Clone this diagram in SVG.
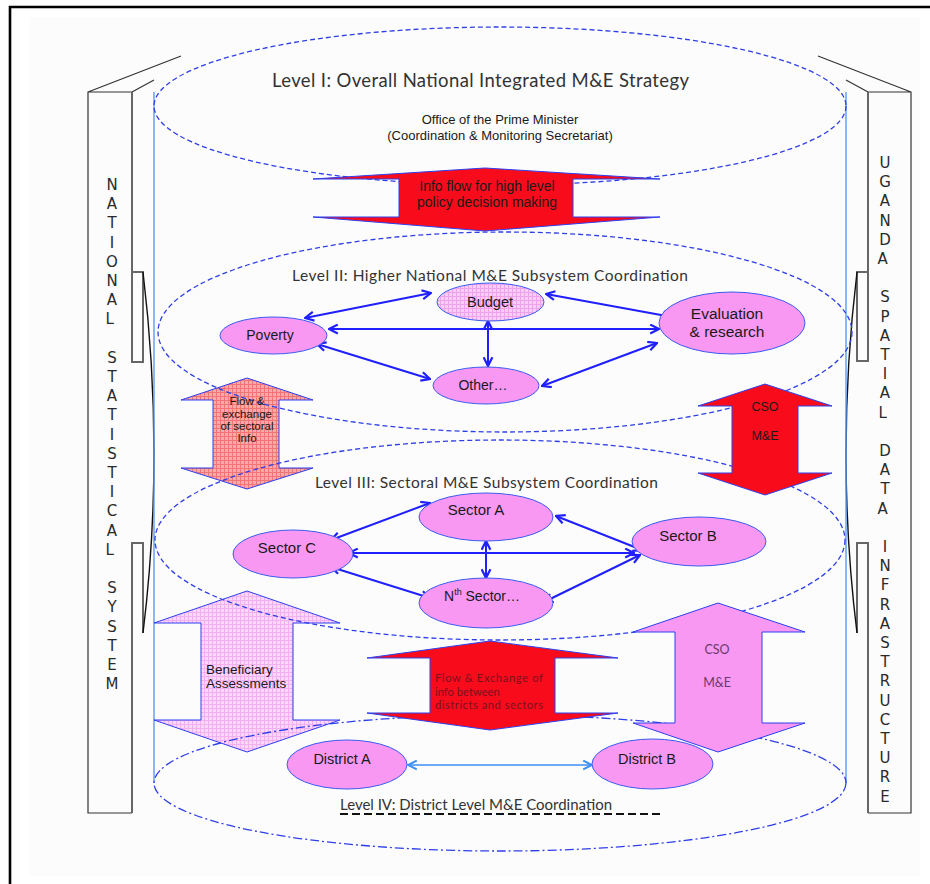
<svg xmlns="http://www.w3.org/2000/svg" width="930" height="884" viewBox="0 0 930 884">
  <defs>
    <style>
      .lvl { fill: none; stroke: #2f3fe8; stroke-width: 1.3; stroke-dasharray: 5 3; }
      .lvl4 { fill: none; stroke: #2f3fe8; stroke-width: 1.3; stroke-dasharray: 9 3 2 3; }
      .pillar { fill: none; stroke: #333; stroke-width: 1.2; }
      .pillar-side { fill: none; stroke: #666; stroke-width: 2; }
      .curve { fill: none; stroke: #111; stroke-width: 1.4; }
      .axis { stroke: #5b9bf5; stroke-width: 1.4; }
      .node { fill: #f898f2; stroke: #3a5cf0; stroke-width: 1; }
      .shape { stroke: #2d3ff0; stroke-width: 1; }
      .link { fill: none; stroke: #1f1fff; stroke-width: 2; marker-start: url(#ah); marker-end: url(#ah); }
      .link-lt { fill: none; stroke: #3b8ff5; stroke-width: 1.6; marker-start: url(#ahl); marker-end: url(#ahl); }
      .title { font-family: Lato, "Open Sans", sans-serif; fill: #333; text-anchor: middle; }
      .lbl { font-family: "Liberation Sans", Arial, sans-serif; fill: #1a1a1a; text-anchor: middle; }
      .side { font-family: "DejaVu Sans", sans-serif; font-size: 15px; fill: #2a2a2a; text-anchor: middle; }
    </style>
    <marker id="ah" viewBox="0 0 10 10" refX="9" refY="5" markerWidth="11" markerHeight="11" markerUnits="userSpaceOnUse" orient="auto-start-reverse">
      <path d="M1,1 L9,5 L1,9" fill="none" stroke="#1f1fff" stroke-width="2"/>
    </marker>
    <marker id="ahl" viewBox="0 0 10 10" refX="9" refY="5" markerWidth="11" markerHeight="11" markerUnits="userSpaceOnUse" orient="auto-start-reverse">
      <path d="M1,1 L9,5 L1,9" fill="none" stroke="#3b8ff5" stroke-width="1.8"/>
    </marker>
    <pattern id="chkPink" width="4" height="4" patternUnits="userSpaceOnUse">
      <rect width="4" height="4" fill="#fbd8f9"/>
      <path d="M0,0.5H4M0.5,0V4" stroke="#f3b0f0" stroke-width="1"/>
    </pattern>
    <pattern id="chkBudget" width="4" height="4" patternUnits="userSpaceOnUse">
      <rect width="4" height="4" fill="#f8cdf6"/>
      <path d="M0,0.5H4M0.5,0V4" stroke="#eea2eb" stroke-width="1"/>
    </pattern>
    <pattern id="chkSalmon" width="4" height="4" patternUnits="userSpaceOnUse">
      <rect width="4" height="4" fill="#f8aaaa"/>
      <path d="M0,0.5H4M0.5,0V4" stroke="#ee7676" stroke-width="1"/>
    </pattern>
  </defs>

  <!-- page frame -->
  <rect x="0" y="0" width="930" height="884" fill="#ffffff"/>
  <rect x="30" y="17" width="890" height="859" fill="#fcfcfc"/>
  <path d="M10,884 V7 H930" fill="none" stroke="#000" stroke-width="2.6"/>

  <!-- left pillar: National Statistical System -->
  <g id="pillar-left">
    <path class="pillar" d="M132,92 L88,92 L88,813 L132,813 M88,92 L181,56 M132,92 L154,80"/>
    <path class="pillar-side" d="M132,92 V362 H143 V272 H132 M132,813 V543 H143 V633"/>
    <path class="curve" d="M143,272 Q165,455 143,633"/>
    <text class="side">
      <tspan x="112" y="190">N</tspan><tspan x="112" dy="19.2">A</tspan><tspan x="112" dy="19.2">T</tspan><tspan x="112" dy="19.2">I</tspan><tspan x="112" dy="19.2">O</tspan><tspan x="112" dy="19.2">N</tspan><tspan x="112" dy="19.2">A</tspan><tspan x="112" dy="19.2">L</tspan>
      <tspan x="112" dy="38.4">S</tspan><tspan x="112" dy="19.2">T</tspan><tspan x="112" dy="19.2">A</tspan><tspan x="112" dy="19.2">T</tspan><tspan x="112" dy="19.2">I</tspan><tspan x="112" dy="19.2">S</tspan><tspan x="112" dy="19.2">T</tspan><tspan x="112" dy="19.2">I</tspan><tspan x="112" dy="19.2">C</tspan><tspan x="112" dy="19.2">A</tspan><tspan x="112" dy="19.2">L</tspan>
      <tspan x="112" dy="38.4">S</tspan><tspan x="112" dy="19.2">Y</tspan><tspan x="112" dy="19.2">S</tspan><tspan x="112" dy="19.2">T</tspan><tspan x="112" dy="19.2">E</tspan><tspan x="112" dy="19.2">M</tspan>
    </text>
  </g>

  <!-- right pillar: Uganda Spatial Data Infrastructure -->
  <g id="pillar-right">
    <path class="pillar" d="M868,92 L911,92 L911,813 L868,813 M911,92 L818,56 M868,92 L846,80"/>
    <path class="pillar-side" d="M868,92 V361 H857 V272 H868 M868,813 V543 H857 V633"/>
    <path class="curve" d="M857,272 Q835,455 857,633"/>
    <text class="side">
      <tspan x="885" y="168">U</tspan><tspan x="885" dy="19.2">G</tspan><tspan x="885" dy="19.2">A</tspan><tspan x="885" dy="19.2">N</tspan><tspan x="885" dy="19.2">D</tspan><tspan x="885" dy="19.2">A</tspan>
      <tspan x="885" dy="38.4">S</tspan><tspan x="885" dy="19.2">P</tspan><tspan x="885" dy="19.2">A</tspan><tspan x="885" dy="19.2">T</tspan><tspan x="885" dy="19.2">I</tspan><tspan x="885" dy="19.2">A</tspan><tspan x="885" dy="19.2">L</tspan>
      <tspan x="885" dy="38.4">D</tspan><tspan x="885" dy="19.2">A</tspan><tspan x="885" dy="19.2">T</tspan><tspan x="885" dy="19.2">A</tspan>
      <tspan x="885" dy="38.4">I</tspan><tspan x="885" dy="19.2">N</tspan><tspan x="885" dy="19.2">F</tspan><tspan x="885" dy="19.2">R</tspan><tspan x="885" dy="19.2">A</tspan><tspan x="885" dy="19.2">S</tspan><tspan x="885" dy="19.2">T</tspan><tspan x="885" dy="19.2">R</tspan><tspan x="885" dy="19.2">U</tspan><tspan x="885" dy="19.2">C</tspan><tspan x="885" dy="19.2">T</tspan><tspan x="885" dy="19.2">U</tspan><tspan x="885" dy="19.2">R</tspan><tspan x="885" dy="19.2">E</tspan>
    </text>
  </g>

  <!-- cylinder walls -->
  <g id="cylinder-walls">
    <line class="axis" x1="154" y1="92" x2="154" y2="783"/>
    <line class="axis" x1="846" y1="92" x2="846" y2="783"/>
  </g>

  <!-- hatched flow arrows (ellipse outlines show through these) -->
  <g id="flow-sectoral-info">
    <path class="shape" fill="url(#chkSalmon)" d="M247,378 L313,400 L279,400 L279,468 L313,468 L247,489 L181,468 L213,468 L213,400 L181,400 Z"/>
  </g>
  <g id="beneficiary-assessments">
    <path class="shape" fill="url(#chkPink)" d="M247,591 L340,623 L293,623 L293,720 L340,720 L247,752 L154,720 L201,720 L201,623 L154,623 Z"/>
  </g>

  <!-- level planes -->
  <g id="levels">
    <ellipse class="lvl" cx="500" cy="106" rx="346" ry="79" stroke-width="1.6" stroke-dasharray="4 4"/>
    <ellipse class="lvl" cx="505" cy="332" rx="347" ry="100"/>
    <ellipse class="lvl" cx="500" cy="540" rx="345" ry="100"/>
    <ellipse class="lvl4" cx="500" cy="783" rx="346" ry="68"/>
  </g>

  <!-- solid flow arrows -->
  <g id="flow-high-level">
    <path class="shape" fill="#f80c1c" d="M485,168 L660,179 L573,179 L573,217 L660,217 L485,231 L313,217 L399,217 L399,179 L313,179 Z"/>
  </g>
  <g id="cso-upper">
    <path class="shape" fill="#f80c1c" d="M765,384 L832,406 L798,406 L798,473 L832,473 L765,495 L698,473 L732,473 L732,406 L698,406 Z"/>
  </g>
  <g id="flow-districts-sectors">
    <path class="shape" fill="#f80c1c" d="M490,641 L618,658 L555,658 L555,713 L618,713 L490,730 L367,713 L430,713 L430,658 L367,658 Z"/>
  </g>
  <g id="cso-lower">
    <path class="shape" fill="#f898f2" d="M718,603 L805,632 L762,632 L762,723 L805,723 L718,752 L633,723 L675,723 L675,632 L633,632 Z"/>
  </g>

  <!-- connectors -->
  <g id="connectors">
    <line class="link" x1="305" y1="318" x2="431" y2="293"/>
    <line class="link" x1="317" y1="344" x2="430" y2="379"/>
    <line class="link" x1="329" y1="329" x2="659" y2="329"/>
    <line class="link" x1="488" y1="321" x2="488" y2="366"/>
    <line class="link" x1="546" y1="294" x2="672" y2="317"/>
    <line class="link" x1="542" y1="386" x2="657" y2="343"/>

    <line class="link" x1="331" y1="540" x2="430" y2="503"/>
    <line class="link" x1="331" y1="567" x2="430" y2="598"/>
    <line class="link" x1="349" y1="553" x2="634" y2="553"/>
    <line class="link" x1="486" y1="541" x2="486" y2="578"/>
    <line class="link" x1="556" y1="516" x2="642" y2="550"/>
    <line class="link" x1="544" y1="602" x2="640" y2="555"/>

    <line class="link-lt" x1="408" y1="765" x2="592" y2="765"/>
  </g>

  <!-- level II nodes -->
  <g id="budget">
    <ellipse cx="490.5" cy="302" rx="53.5" ry="19" fill="url(#chkBudget)" stroke="#3a5cf0" stroke-width="1"/>
    <text class="lbl" x="490" y="307" font-size="14.5">Budget</text>
  </g>
  <g id="poverty">
    <ellipse class="node" cx="273.5" cy="335.5" rx="53.5" ry="18.5"/>
    <text class="lbl" x="270" y="340" font-size="14">Poverty</text>
  </g>
  <g id="other">
    <ellipse class="node" cx="486" cy="385.5" rx="53" ry="18.5"/>
    <text class="lbl" x="483" y="390" font-size="14">Other…</text>
  </g>
  <g id="evaluation-research">
    <ellipse class="node" cx="732" cy="323" rx="73" ry="31"/>
    <text class="lbl" x="727" y="318.5" font-size="15.5">Evaluation</text>
    <text class="lbl" x="727" y="336.5" font-size="15.5">&amp; research</text>
  </g>

  <!-- level III nodes -->
  <g id="sector-a">
    <ellipse class="node" cx="486" cy="517" rx="67" ry="24"/>
    <text class="lbl" x="476" y="515" font-size="15">Sector A</text>
  </g>
  <g id="sector-c">
    <ellipse class="node" cx="293" cy="554" rx="60" ry="24"/>
    <text class="lbl" x="287" y="553" font-size="15">Sector C</text>
  </g>
  <g id="sector-b">
    <ellipse class="node" cx="699" cy="541.5" rx="67" ry="24.5"/>
    <text class="lbl" x="688" y="541" font-size="15">Sector B</text>
  </g>
  <g id="sector-n">
    <ellipse class="node" cx="486" cy="603" rx="67" ry="25"/>
    <text class="lbl" x="482" y="601" font-size="14">N<tspan font-size="9" dy="-6">th</tspan><tspan dy="6"> Sector…</tspan></text>
  </g>

  <!-- level IV nodes -->
  <g id="district-a">
    <ellipse class="node" cx="347" cy="764.5" rx="60" ry="24.5"/>
    <text class="lbl" x="342" y="764" font-size="14.5">District A</text>
  </g>
  <g id="district-b">
    <ellipse class="node" cx="652.5" cy="764" rx="60.5" ry="25"/>
    <text class="lbl" x="647" y="764" font-size="14.5">District B</text>
  </g>

  <!-- level headings and office -->
  <g id="level-1">
    <text class="title" x="480.5" y="87" font-size="18.5" textLength="417" lengthAdjust="spacing">Level I: Overall National Integrated M&amp;E Strategy</text>
    <text class="lbl" x="500" y="124" font-size="13">Office of the Prime Minister</text>
    <text class="lbl" x="500" y="140" font-size="13">(Coordination &amp; Monitoring Secretariat)</text>
  </g>
  <text class="title" x="490" y="281" font-size="15.5" textLength="396" lengthAdjust="spacing">Level II: Higher National M&amp;E Subsystem Coordination</text>
  <text class="title" x="486.5" y="488" font-size="15.5" textLength="343" lengthAdjust="spacing">Level III: Sectoral M&amp;E Subsystem Coordination</text>
  <g id="level-4">
    <text class="title" x="476" y="810" font-size="15" textLength="272" lengthAdjust="spacing">Level IV: District Level M&amp;E Coordination</text>
    <line x1="340" y1="814" x2="660" y2="814" stroke="#111" stroke-width="2" stroke-dasharray="8 4"/>
  </g>

  <!-- arrow captions -->
  <text class="lbl" font-size="14"><tspan x="487" y="191">Info flow for high level</tspan><tspan x="487" y="207">policy decision making</tspan></text>
  <text class="lbl" font-size="11.5" fill="#222"><tspan x="247" y="405">Flow &amp;</tspan><tspan x="247" y="417.5">exchange</tspan><tspan x="247" y="430">of sectoral</tspan><tspan x="247" y="442">Info</tspan></text>
  <text class="lbl" font-size="12.5"><tspan x="765" y="411">CSO</tspan><tspan x="765" y="440">M&amp;E</tspan></text>
  <text font-family="'Liberation Sans', Arial, sans-serif" font-size="13.5" fill="#1a1a1a"><tspan x="206" y="674">Beneficiary</tspan><tspan x="206" y="688">Assessments</tspan></text>
  <text font-family="Lato, 'Open Sans', sans-serif" font-size="11.2" fill="#7a1020"><tspan x="435" y="682" textLength="108" lengthAdjust="spacing">Flow &amp; Exchange of</tspan><tspan x="435" y="695.5">info between</tspan><tspan x="435" y="709" textLength="108" lengthAdjust="spacing">districts and sectors</tspan></text>
  <text font-family="Lato, 'Open Sans', sans-serif" font-size="12.5" fill="#6a3a6a" text-anchor="middle"><tspan x="717" y="654">CSO</tspan><tspan x="717" y="687">M&amp;E</tspan></text>
</svg>
